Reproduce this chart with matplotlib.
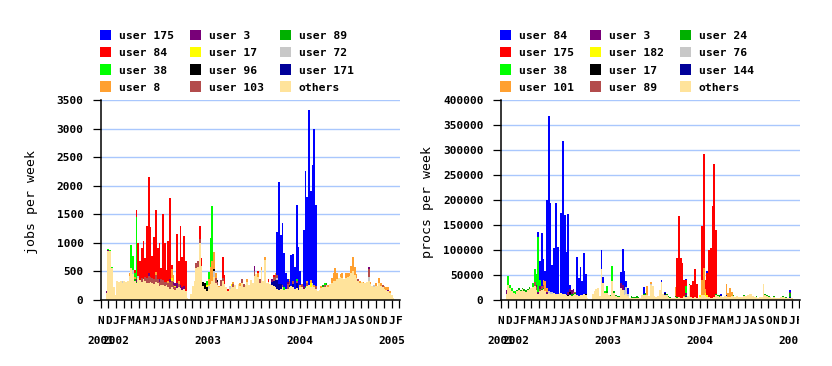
import numpy as np
import matplotlib
matplotlib.use("Agg")
import matplotlib.pyplot as plt
import matplotlib.dates as mdates
from matplotlib.patches import Rectangle
from matplotlib.transforms import IdentityTransform, Bbox
import datetime as dt

# ---------------- data ----------------
N_WEEKS = 164
first_week = dt.date(2001, 11, 21)

month_initials = list("NDJFMAMJJASONDJFMAMJJASONDJFMAMJJASONDJF")
year_labels = ["2001", "2002", "2003", "2004", "2005"]
year_dates = [dt.date(2001, 11, 1), dt.date(2002, 1, 1), dt.date(2003, 1, 1),
              dt.date(2004, 1, 1), dt.date(2005, 1, 1)]

# ---- left panel: jobs per week ----
jobs_names = ["user 175", "user 84", "user 38", "user 8", "user 3", "user 17",
              "user 96", "user 103", "user 89", "user 72", "user 171", "others"]
jobs_colors = ["#0000ff", "#ff0000", "#00ff00", "#ffa030", "#780078", "#ffff00",
               "#000000", "#b34c4c", "#00b000", "#c8c8c8", "#000099", "#ffe39b"]

jobs_others = [
    120, 850, 860, 560, 220, 80, 340, 320, 330, 290,
    340, 310, 340, 420, 560, 460, 330, 300, 380, 350,
    320, 370, 330, 290, 300, 320, 290, 280, 320, 290,
    250, 260, 270, 240, 260, 220, 200, 230, 200, 170,
    210, 220, 210, 180, 200, 150, 40, 20, 110, 240,
    330, 560, 580, 1000, 600, 250, 200, 150, 200, 280,
    330, 400, 300, 260, 220, 250, 330, 280, 230, 160,
    200, 250, 230, 260, 200, 280, 240, 300, 220, 260,
    320, 260, 350, 300, 420, 460, 400, 300, 520, 330,
    700, 300, 320, 280, 260, 240, 230, 200, 180, 200,
    220, 180, 200, 200, 230, 250, 220, 200, 210, 170,
    220, 230, 200, 210, 240, 260, 230, 240, 220, 200,
    160, 180, 210, 230, 220, 240, 230, 280, 300, 330,
    340, 360, 380, 400, 380, 360, 390, 400, 420, 480,
    500, 430, 380, 330, 300, 310, 290, 300, 320, 340,
    280, 250, 230, 250, 240, 290, 250, 230, 200, 180,
    150, 120, 80, 30]
jobs_u175 = {97: 750, 98: 1780, 99: 850, 100: 1070, 101: 600, 102: 280, 103: 40,
             105: 530, 106: 470, 107: 380, 108: 1300, 109: 710, 110: 230,
             112: 980, 113: 2020, 114: 1460, 115: 3060, 116: 1550, 117: 2060,
             118: 2720, 119: 1420}
jobs_u84 = {16: 50, 17: 120, 18: 570, 19: 330, 20: 535, 21: 660, 22: 330, 23: 910,
            24: 1670, 25: 880, 26: 380, 27: 730, 28: 1080, 29: 545, 30: 640,
            31: 200, 32: 1150, 33: 690, 34: 200, 35: 700, 36: 1420, 37: 80,
            40: 870, 41: 340, 42: 1020, 43: 530, 44: 880, 45: 530, 53: 240,
            54: 140, 66: 370, 67: 150, 69: 40, 86: 30, 92: 40, 95: 30}
jobs_u38 = {1: 15, 2: 20, 3: 20, 14: 400, 15: 250, 16: 80, 17: 1090, 57: 60,
            58: 120, 59: 500, 60: 970, 101: 40, 108: 20, 113: 20, 124: 30}
jobs_u8 = {13: 60, 16: 40, 28: 50, 35: 40, 37: 150, 38: 120, 41: 60, 58: 100,
           59: 300, 60: 350, 61: 300, 62: 100, 64: 30, 72: 40, 76: 60, 80: 40,
           86: 80, 88: 60, 90: 60, 96: 40, 104: 40, 110: 50, 114: 40, 116: 60,
           118: 50, 122: 30, 126: 40, 128: 80, 129: 150, 130: 220, 131: 120,
           133: 60, 134: 100, 136: 80, 137: 70, 138: 60, 139: 120, 140: 260,
           141: 150, 142: 80, 144: 40, 146: 30, 150: 40, 153: 40, 155: 100,
           156: 50, 158: 40, 159: 50, 160: 60, 161: 40}
jobs_u3 = {0: 30, 1: 20, 17: 40, 24: 60, 30: 50, 36: 40, 38: 60, 39: 50, 40: 80,
           42: 60, 43: 40, 44: 40, 84: 100, 94: 40, 103: 40, 112: 40, 149: 30,
           160: 20}
jobs_u17 = {37: 60, 39: 30, 57: 40, 58: 30, 71: 30, 116: 60}
jobs_u96 = {55: 60, 56: 100, 57: 80, 61: 40, 63: 30}
jobs_u103 = {20: 60, 22: 80, 23: 100, 24: 120, 25: 80, 26: 100, 27: 90, 28: 120,
             29: 80, 30: 60, 31: 100, 32: 80, 33: 70, 34: 60, 35: 80, 36: 120,
             37: 100, 38: 60, 39: 50, 41: 60, 51: 80, 52: 100, 53: 60, 62: 80,
             63: 60, 65: 100, 66: 60, 72: 50, 77: 60, 78: 60, 84: 80, 87: 60,
             95: 60, 96: 80, 97: 60, 100: 50, 103: 80, 104: 60, 106: 60,
             108: 50, 111: 50, 114: 60, 119: 40, 124: 40, 143: 40, 149: 150,
             157: 40}
jobs_u89 = {16: 30, 17: 20, 123: 30, 125: 20}
jobs_u72 = {9: 40, 15: 60, 18: 40, 58: 40, 61: 100, 70: 50, 97: 30, 117: 60,
            125: 30, 149: 60, 152: 40}
jobs_u171 = {94: 60, 95: 100, 96: 120, 97: 150, 98: 100, 99: 80, 104: 40,
             106: 60, 108: 80, 109: 40}

jobs_yticks = [0, 500, 1000, 1500, 2000, 2500, 3000, 3500]

# ---- right panel: procs per week ----
procs_names = ["user 84", "user 175", "user 38", "user 101", "user 3", "user 182",
               "user 17", "user 89", "user 24", "user 76", "user 144", "others"]
procs_colors = ["#0000ff", "#ff0000", "#00ff00", "#ffa030", "#780078", "#ffff00",
                "#000000", "#b34c4c", "#00b000", "#c8c8c8", "#000099", "#ffe39b"]

procs_others = [
    12000, 30000, 25000, 18000, 15000, 13000, 18000, 20000, 18000, 22000,
    18000, 17000, 20000, 22000, 24000, 26000, 28000, 20000, 12000, 18000,
    20000, 22000, 18000, 12000, 14000, 12000, 13000, 14000, 12000, 13000,
    15000, 14000, 12000, 13000, 10000, 8000, 10000, 9000, 10000, 12000,
    10000, 9000, 10000, 11000, 12000, 10000, 5000, 3000, 2000, 12000,
    18000, 22000, 25000, 9000, 63000, 35000, 15000, 15000, 10000, 8000,
    38000, 15000, 8000, 7000, 7000, 25000, 20000, 10000, 12000, 8000,
    5000, 5000, 4000, 5000, 5000, 4000, 5000, 11000, 10000, 11000,
    10000, 9000, 30000, 28000, 8000, 7000, 8000, 20000, 36000, 12000,
    11000, 10000, 6000, 5000, 5000, 5000, 6000, 5000, 6000, 5000,
    5000, 6000, 6000, 8000, 30000, 6000, 5000, 6000, 5000, 5000,
    6000, 10000, 10000, 8000, 7000, 6000, 5000, 5000, 6000, 10000,
    9000, 7000, 8000, 7000, 8000, 8000, 7000, 6000, 8000, 8000,
    7000, 8000, 7000, 6000, 7000, 8000, 9000, 10000, 13000, 12000,
    8000, 6000, 7000, 5000, 6000, 7000, 33000, 10000, 8000, 7000,
    6000, 5000, 6000, 5000, 4000, 5000, 6000, 7000, 6000, 5000,
    4000, 5000, 4000, 3000]
procs_u84 = {18: 9000, 19: 39000, 20: 107000, 21: 42000, 22: 20000, 23: 175000,
             24: 349000, 25: 178000, 26: 54000, 27: 91000, 28: 183000, 29: 94000,
             31: 161000, 32: 307000, 33: 157000, 34: 87000, 35: 157000, 36: 8000,
             40: 77000, 41: 36000, 42: 57000, 43: 27000, 44: 83000, 45: 40000,
             54: 38000, 55: 11000, 65: 21000, 66: 73000, 67: 38000, 68: 11000,
             69: 12000, 78: 14000, 88: 5000, 90: 2000, 102: 2000, 114: 3000,
             122: 2000, 161: 3000}
procs_u175 = {97: 78000, 98: 162000, 99: 80000, 100: 70000, 101: 31000, 102: 13000,
              105: 25000, 106: 34000, 107: 56000, 108: 27000, 111: 108000,
              112: 228000, 113: 19000, 114: 45000, 115: 95000, 116: 99000,
              117: 183000, 118: 267000, 119: 128000}
procs_u38 = {1: 18000, 2: 5000, 3: 7000, 4: 4000, 5: 5000, 15: 9000, 16: 27000,
             17: 21000, 18: 110000, 19: 12000, 56: 3000, 57: 10000, 60: 30000,
             102: 14000}
procs_u101 = {21: 10000, 22: 20000, 23: 8000, 80: 18000, 82: 4000, 96: 17000,
              101: 3000, 111: 30000, 112: 55000, 113: 8000, 125: 22000,
              126: 8000, 127: 18000, 128: 8000}
procs_u3 = {0: 8000, 17: 5000, 18: 5000, 19: 5000, 23: 5000, 35: 5000, 36: 6000,
            37: 8000, 38: 5000, 65: 10000, 66: 10000, 102: 3000, 161: 2000}
procs_u182 = {110: 3000, 113: 6000, 114: 3000}
procs_u17 = {35: 3000, 36: 4000, 45: 2000, 90: 1500, 110: 1000}
procs_u89 = {16: 8000, 17: 6000, 19: 5000, 20: 5000, 21: 5000, 38: 4000, 39: 3000}
procs_u24 = {6: 3000, 7: 4000, 8: 3000, 9: 3000, 10: 4000, 11: 3000, 12: 3000,
             13: 4000, 20: 3000, 21: 3000, 37: 3000, 38: 3000, 39: 2000, 57: 3000,
             59: 3000, 61: 3000, 62: 2000, 63: 2000, 64: 2000, 71: 3000, 72: 3000,
             73: 2000, 74: 3000, 75: 2000, 78: 2000, 79: 3000, 91: 2000, 92: 3000,
             93: 2000, 96: 3000, 97: 2000, 102: 3000, 104: 2000, 119: 2000,
             120: 2000, 121: 3000, 129: 3000, 135: 3000, 142: 2000, 147: 3000,
             148: 3000, 149: 2000, 152: 2000, 157: 2000, 159: 2000, 161: 8000}
procs_u76 = {24: 5000, 25: 5000, 26: 4000, 67: 10000, 68: 15000, 69: 5000, 82: 3000}
procs_u144 = {36: 3000, 90: 2000, 102: 2000, 122: 1500, 125: 1500, 161: 2000}

procs_yticks = [0, 50000, 100000, 150000, 200000, 250000, 300000, 350000, 400000]


# ---------------- drawing ----------------
def dense(d):
    a = np.zeros(N_WEEKS)
    for k, v in d.items():
        a[k] = v
    return a


W, H = 832, 366
fig = plt.figure(figsize=(W / 100, H / 100), dpi=100)
fig.patch.set_facecolor("white")

MONO = "DejaVu Sans Mono"
GRID = "#a9c7fd"

week_starts = [first_week + dt.timedelta(days=7 * i) for i in range(N_WEEKS + 1)]
x_edges = mdates.date2num(week_starts)
month_dates = []
y, m = 2001, 11
for _ in range(len(month_initials)):
    month_dates.append(dt.date(y, m, 1))
    m += 1
    if m > 12:
        m, y = 1, y + 1
month_nums = mdates.date2num(month_dates)
x0_num = month_nums[0]
x1_num = month_nums[-1] + 2.8


def panel(x_px, names, colors, series, yticks, ylabel, ylabel_x, clip_right=None):
    ax = fig.add_axes([x_px / W, (H - 300) / H, 299.3 / W, 200 / H])
    ax.set_xlim(x0_num, x1_num)
    ax.set_ylim(0, yticks[-1])
    ax.set_axisbelow(True)
    ax.yaxis.grid(True, color=GRID, linewidth=1.0)
    ax.set_facecolor("white")

    # stack from bottom (others) to top (rank 1)
    bottom = np.zeros(N_WEEKS)
    for name, col, vals in reversed(list(zip(names, colors, series))):
        top = bottom + vals
        lo = np.append(bottom, bottom[-1])
        hi = np.append(top, top[-1])
        ax.fill_between(x_edges, lo, hi, step="post", color=col, linewidth=0,
                        zorder=2)
        bottom = top

    for s in ["top", "right"]:
        ax.spines[s].set_visible(False)
    for s in ["left", "bottom"]:
        ax.spines[s].set_linewidth(1.1)
        ax.spines[s].set_color("black")
        ax.spines[s].set_zorder(3)

    ax.set_yticks(yticks)
    ax.set_yticklabels([str(v) for v in yticks], fontfamily=MONO,
                       fontweight="bold", fontsize=8)
    ax.set_xticks(month_nums)
    ax.set_xticklabels(month_initials, fontfamily=MONO, fontweight="bold",
                       fontsize=8)
    ax.tick_params(axis="both", direction="out", length=5.8, width=0.9,
                   color="black")
    ax.tick_params(axis="y", pad=6.5)
    ax.tick_params(axis="x", pad=5.5)

    texts = []
    for lab, d in zip(year_labels, year_dates):
        t = ax.text(mdates.date2num(d), -0.205, lab, transform=ax.get_xaxis_transform(),
                    ha="center", va="center", fontfamily=MONO, fontweight="bold",
                    fontsize=8, clip_on=False)
        texts.append(t)

    fig.text(ylabel_x / W, 1 - 202 / H, ylabel, rotation=90, ha="center",
             va="center", fontfamily=MONO, fontsize=9.5)

    if clip_right is not None:
        bb = Bbox.from_extents(0, 0, clip_right, H)
        for t in texts + ax.get_xticklabels():
            t.set_clip_box(bb)
            t.set_clip_on(True)
        for tk in ax.xaxis.get_major_ticks():
            tk.tick1line.set_clip_box(bb)
            tk.tick1line.set_clip_on(True)
    return ax


def legend(sq_x0, names, colors):
    col_x = [sq_x0, sq_x0 + 90, sq_x0 + 180]
    for k, (name, col) in enumerate(zip(names, colors)):
        c, r = k // 4, k % 4
        yc = 35 + 17.3 * r
        fig.add_artist(Rectangle((col_x[c], H - (yc + 5)), 10.5, 10.5,
                                 transform=IdentityTransform(), facecolor=col,
                                 edgecolor="none"))
        fig.text((col_x[c] + 18.8) / W, 1 - (yc + 4) / H, name, ha="left",
                 va="baseline", fontfamily=MONO, fontweight="bold", fontsize=8.2)


jobs_series = [dense(jobs_u175), dense(jobs_u84), dense(jobs_u38), dense(jobs_u8),
               dense(jobs_u3), dense(jobs_u17), dense(jobs_u96), dense(jobs_u103),
               dense(jobs_u89), dense(jobs_u72), dense(jobs_u171),
               np.array(jobs_others, dtype=float)]
procs_series = [dense(procs_u84), dense(procs_u175), dense(procs_u38),
                dense(procs_u101), dense(procs_u3), dense(procs_u182),
                dense(procs_u17), dense(procs_u89), dense(procs_u24),
                dense(procs_u76), dense(procs_u144),
                np.array(procs_others, dtype=float)]

panel(100.7, jobs_names, jobs_colors, jobs_series, jobs_yticks, "jobs per week", 31)
panel(500.7, procs_names, procs_colors, procs_series, procs_yticks,
      "procs per week", 427, clip_right=799)
legend(100, jobs_names, jobs_colors)
legend(500, procs_names, procs_colors)

fig.savefig("out.png", dpi=100, facecolor="white")
